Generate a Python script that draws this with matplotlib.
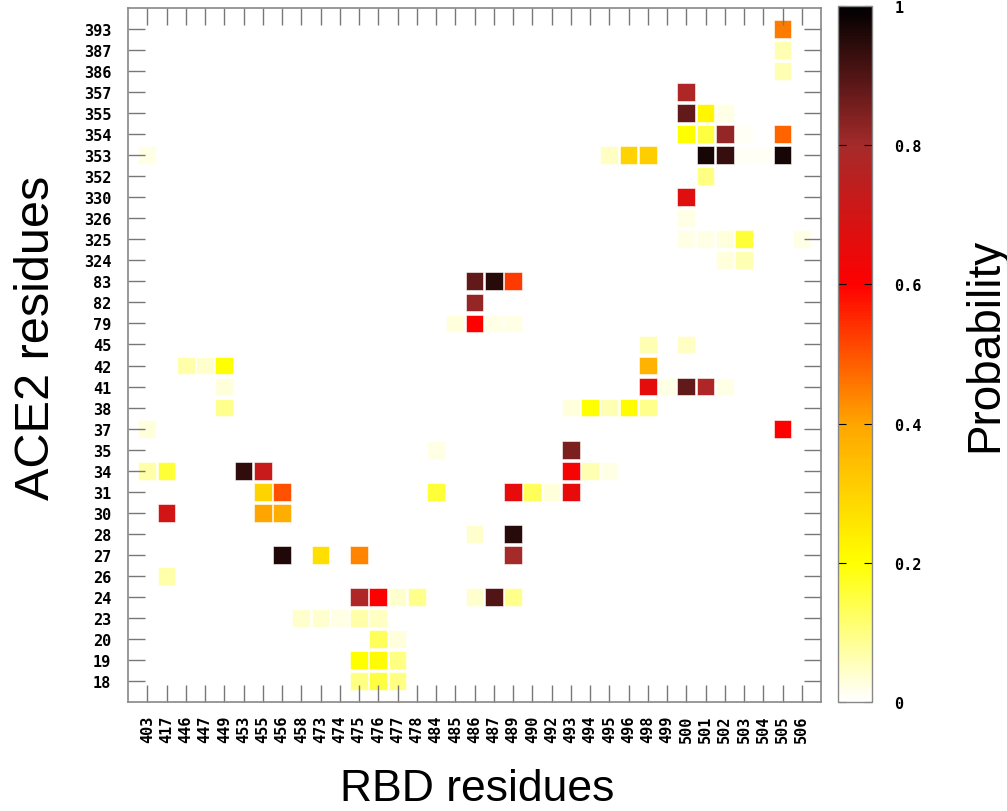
import numpy as np
import matplotlib
matplotlib.use("Agg")
import matplotlib.pyplot as plt
from matplotlib.colors import LinearSegmentedColormap

# axis categories
rbd_residues = [403, 417, 446, 447, 449, 453, 455, 456, 458, 473, 474, 475, 476,
                477, 478, 484, 485, 486, 487, 489, 490, 492, 493, 494, 495, 496,
                498, 499, 500, 501, 502, 503, 504, 505, 506]
ace2_residues = [18, 19, 20, 23, 24, 26, 27, 28, 30, 31, 34, 35, 37, 38, 41, 42,
                 45, 79, 82, 83, 324, 325, 326, 330, 352, 353, 354, 355, 357,
                 386, 387, 393]

# contact cells: RBD residue, ACE2 residue, probability
cell_rbd = [505, 505, 505,
            500,
            500, 501, 502,
            500, 501, 502, 503, 505,
            403, 495, 496, 498, 501, 502, 503, 504, 505,
            501,
            500,
            500,
            500, 501, 502, 503, 506,
            502, 503,
            486, 487, 489,
            486,
            485, 486, 487, 489,
            498, 500,
            446, 447, 449, 498,
            449, 498, 499, 500, 501, 502,
            449, 493, 494, 495, 496, 498,
            403, 505,
            484, 493,
            403, 417, 453, 455, 493, 494, 495,
            455, 456, 484, 489, 490, 492, 493,
            417, 455, 456,
            486, 489,
            456, 473, 475, 489,
            417,
            475, 476, 477, 478, 486, 487, 489,
            458, 473, 474, 475, 476,
            476, 477,
            475, 476, 477,
            475, 476, 477]
cell_ace2 = [393, 387, 386,
             357,
             355, 355, 355,
             354, 354, 354, 354, 354,
             353, 353, 353, 353, 353, 353, 353, 353, 353,
             352,
             330,
             326,
             325, 325, 325, 325, 325,
             324, 324,
             83, 83, 83,
             82,
             79, 79, 79, 79,
             45, 45,
             42, 42, 42, 42,
             41, 41, 41, 41, 41, 41,
             38, 38, 38, 38, 38, 38,
             37, 37,
             35, 35,
             34, 34, 34, 34, 34, 34, 34,
             31, 31, 31, 31, 31, 31, 31,
             30, 30, 30,
             28, 28,
             27, 27, 27, 27,
             26,
             24, 24, 24, 24, 24, 24, 24,
             23, 23, 23, 23, 23,
             20, 20,
             19, 19, 19,
             18, 18, 18]
cell_prob = [0.45, 0.06, 0.06,
             0.78,
             0.88, 0.22, 0.02,
             0.20, 0.15, 0.82, 0.01, 0.48,
             0.02, 0.05, 0.30, 0.31, 0.97, 0.93, 0.01, 0.01, 0.97,
             0.10,
             0.67,
             0.02,
             0.02, 0.02, 0.03, 0.16, 0.02,
             0.03, 0.06,
             0.88, 0.95, 0.53,
             0.82,
             0.03, 0.60, 0.02, 0.02,
             0.06, 0.05,
             0.07, 0.04, 0.20, 0.37,
             0.03, 0.66, 0.02, 0.88, 0.78, 0.02,
             0.09, 0.03, 0.20, 0.06, 0.21, 0.09,
             0.03, 0.60,
             0.02, 0.85,
             0.07, 0.16, 0.94, 0.72, 0.62, 0.06, 0.02,
             0.30, 0.50, 0.16, 0.65, 0.13, 0.03, 0.65,
             0.70, 0.40, 0.38,
             0.04, 0.95,
             0.96, 0.27, 0.44, 0.80,
             0.07,
             0.78, 0.60, 0.04, 0.09, 0.04, 0.90, 0.09,
             0.04, 0.04, 0.02, 0.07, 0.05,
             0.13, 0.03,
             0.20, 0.21, 0.10,
             0.10, 0.15, 0.10]

cbar_ticks = [0, 0.2, 0.4, 0.6, 0.8, 1]
cbar_ticklabels = ["0", "0.2", "0.4", "0.6", "0.8", "1"]

cmap = LinearSegmentedColormap.from_list(
    "gp", [(0.0, "white"), (0.2, "yellow"), (0.4, "orange"),
           (0.6, "red"), (0.8, "brown"), (1.0, "black")])

xi = [rbd_residues.index(r) for r in cell_rbd]
yi = [ace2_residues.index(r) for r in cell_ace2]

W, H = 1007, 812
fig = plt.figure(figsize=(W / 100, H / 100), dpi=100)
ax = fig.add_axes([128 / W, 1 - 703 / H, 693 / W, 694 / H])

sc = ax.scatter(xi, yi, c=cell_prob, cmap=cmap, vmin=0, vmax=1,
                marker="s", s=165, edgecolors="white", linewidths=0.4)

ax.set_xlim(-1, len(rbd_residues))
ax.set_ylim(-1, len(ace2_residues))

tick_font = dict(family="DejaVu Sans Mono", weight="bold", size=11)
ax.set_xticks(range(len(rbd_residues)))
ax.set_xticklabels([str(r) for r in rbd_residues], rotation=90, **tick_font)
ax.set_yticks(range(len(ace2_residues)))
ax.set_yticklabels([str(r) for r in ace2_residues], **tick_font)
ax.tick_params(direction="in", top=True, right=True, length=12, width=1.0,
               color="#777777")
ax.tick_params(axis="x", pad=9)
ax.tick_params(axis="y", pad=12)
for sp in ax.spines.values():
    sp.set_color("#888888")
    sp.set_linewidth(1.2)

cax = fig.add_axes([838 / W, 1 - 703 / H, 34 / W, 696 / H])
cb = fig.colorbar(sc, cax=cax)
cb.set_ticks(cbar_ticks)
cb.set_ticklabels(cbar_ticklabels)
for lab in cax.get_yticklabels():
    lab.set_fontfamily("DejaVu Sans Mono")
    lab.set_fontweight("bold")
    lab.set_fontsize(11)
cax.tick_params(direction="in", left=True, right=True, length=6, width=0.8,
                color="black", pad=16)
cb.outline.set_edgecolor("#888888")
cb.outline.set_linewidth(1.0)

label_font = dict(family="Liberation Sans", size=32)
fig.text(477 / W, 1 - 801 / H, "RBD residues", ha="center", va="baseline",
         **label_font)
fig.text(37 / W, 1 - 338 / H, "ACE2 residues", rotation=90, ha="center",
         va="center", family="Liberation Sans", size=35)
fig.text(985 / W, 1 - 345 / H, "Probability", rotation=90, ha="center",
         va="center", family="Liberation Sans", size=33)

fig.savefig("out.png", dpi=100)
